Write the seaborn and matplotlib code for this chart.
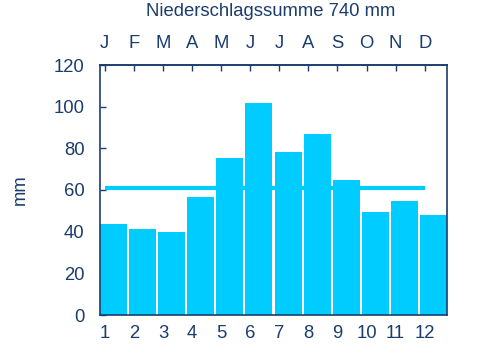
import matplotlib
matplotlib.use("Agg")
import matplotlib.pyplot as plt
import seaborn as sns
import pandas as pd

months = [1, 2, 3, 4, 5, 6, 7, 8, 9, 10, 11, 12]
month_letters = ["J", "F", "M", "A", "M", "J", "J", "A", "S", "O", "N", "D"]
precip_mm = [43.7, 41.3, 39.8, 56.8, 75.5, 101.9, 78.4, 86.9, 64.8, 49.6, 54.7, 48.2]
mean_line = 61.2
title = "Niederschlagssumme 740 mm"

bar_color = "#00CCFF"
text_color = "#1B3D6E"
fs = 13.3

sns.set_theme(style="white")
plt.rcParams["font.family"] = ["Liberation Sans", "DejaVu Sans"]

df = pd.DataFrame({"month": [str(m) for m in months], "mm": precip_mm})

fig = plt.figure(figsize=(4.8, 3.6), dpi=100)
ax = fig.add_axes([100 / 480, 45 / 360, 347 / 480, 250 / 360])

w = 0.93
sns.barplot(data=df, x="month", y="mm", color=bar_color, saturation=1,
            width=w, ax=ax, edgecolor="none", zorder=2)

tick_offset = -0.3
tick_pos = [i + tick_offset for i in range(len(months))]
ax.hlines(mean_line, tick_pos[0], tick_pos[-1], color=bar_color, lw=3, zorder=3)

ax.set_xlim(-w / 2, len(months) - 1 + w / 2)
ax.set_ylim(0, 120)
ax.set_yticks([0, 20, 40, 60, 80, 100, 120])
ax.set_xticks(tick_pos)
ax.set_xticklabels([str(m) for m in months])
ax.set_xlabel("")
ax.set_ylabel("mm", fontsize=fs, color=text_color, labelpad=18)

ax.tick_params(axis="y", direction="in", length=4, width=1, color=text_color,
               labelsize=fs, labelcolor=text_color, pad=11, left=True)
ax.tick_params(axis="x", direction="in", length=0, labelsize=fs,
               labelcolor=text_color, pad=7, bottom=True)

for s in ax.spines.values():
    s.set_visible(True)
    s.set_color(text_color)
    s.set_linewidth(1.2)
    s.set_zorder(5)

sec = ax.secondary_xaxis("top")
sec.set_xticks(tick_pos)
sec.set_xticklabels(month_letters)
sec.tick_params(direction="in", length=4, width=1, color=text_color,
                labelsize=fs, labelcolor=text_color, pad=9)
sec.spines["top"].set_color(text_color)
sec.spines["top"].set_linewidth(1.2)

fig.text(271 / 480, 1 - 12 / 360, title, ha="center", va="center",
         fontsize=fs, color=text_color)

fig.savefig("out.png", dpi=100)
